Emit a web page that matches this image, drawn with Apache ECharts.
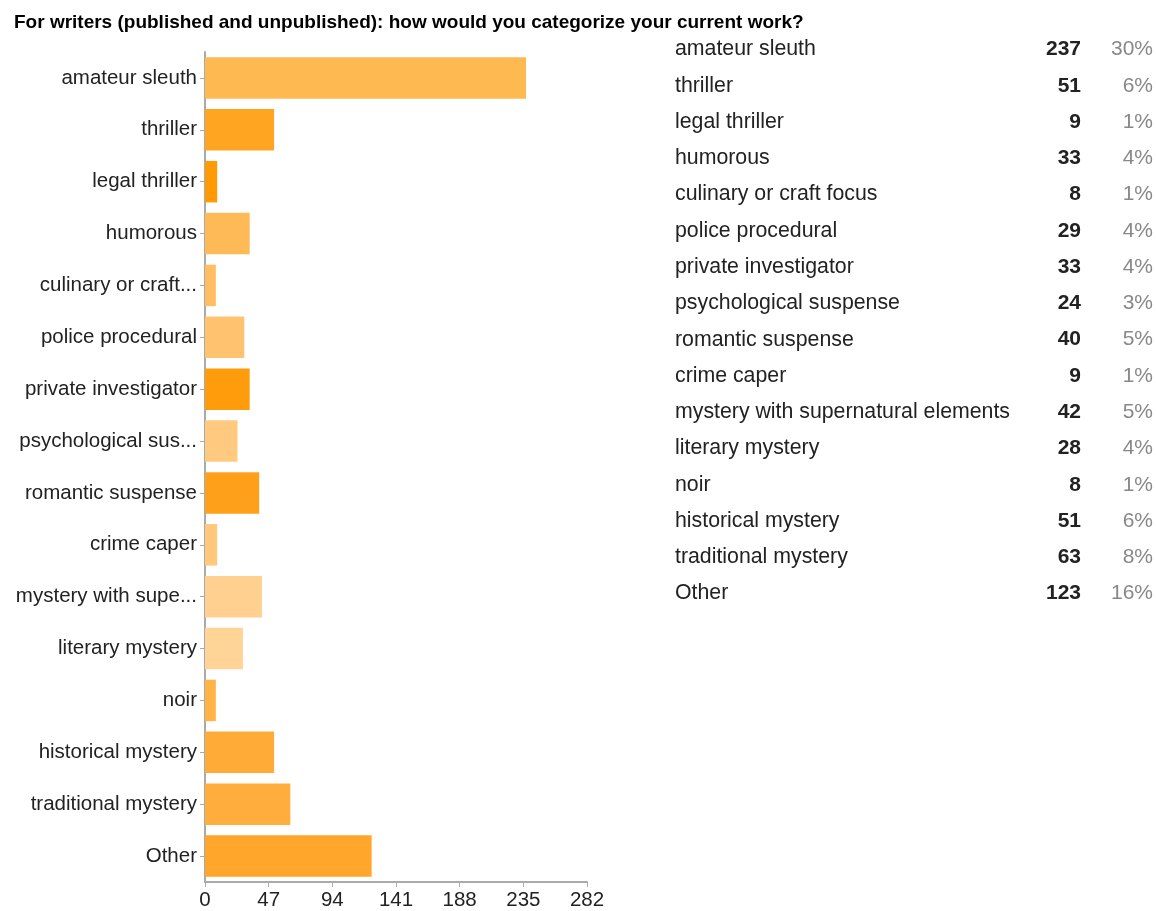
<!DOCTYPE html>
<html>
<head>
<meta charset="utf-8">
<script src="https://cdn.jsdelivr.net/npm/echarts@6/dist/echarts.min.js"></script>
<style>
  html, body { margin: 0; padding: 0; background: #fff; }
  #main { width: 1156px; height: 911px; }
</style>
</head>
<body>
<div id="main"></div>
<script>
// categories (full names, used in the table) and the shortened axis labels
var categories = ["amateur sleuth", "thriller", "legal thriller", "humorous", "culinary or craft focus",
    "police procedural", "private investigator", "psychological suspense", "romantic suspense",
    "crime caper", "mystery with supernatural elements", "literary mystery", "noir",
    "historical mystery", "traditional mystery", "Other"];
var axisLabels = ["amateur sleuth", "thriller", "legal thriller", "humorous", "culinary or craft...",
    "police procedural", "private investigator", "psychological sus...", "romantic suspense",
    "crime caper", "mystery with supe...", "literary mystery", "noir",
    "historical mystery", "traditional mystery", "Other"];
var counts = [237, 51, 9, 33, 8, 29, 33, 24, 40, 9, 42, 28, 8, 51, 63, 123];
var percents = ["30%", "6%", "1%", "4%", "1%", "4%", "4%", "3%", "5%", "1%", "5%", "4%", "1%", "6%", "8%", "16%"];
var barColors = ["#FFB951", "#FFA522", "#FF9A05", "#FFBA58", "#FFBE63", "#FFC370", "#FF9C0B", "#FFCA80",
    "#FFA01A", "#FFC87A", "#FFD08F", "#FFD496", "#FFB445", "#FFAB38", "#FFAE3E", "#FFA62B"];
var xTicks = [0, 47, 94, 141, 188, 235, 282];

var chart = echarts.init(document.getElementById('main'), null, { renderer: 'canvas' });

var font = '"Liberation Sans", Arial, sans-serif';

// table on the right
var rowTop = 49, rowStep = 36.27;
var tableItems = [];
for (var i = 0; i < categories.length; i++) {
    var y = rowTop + i * rowStep;
    tableItems.push({
        type: 'text', left: 675, top: y - 10,
        style: { text: categories[i], font: '21.3px ' + font, fill: '#222' }
    });
    tableItems.push({
        type: 'text', right: 1156 - 1081, top: y - 10,
        style: { text: String(counts[i]), font: 'bold 21px ' + font, fill: '#222', textAlign: 'right' }
    });
    tableItems.push({
        type: 'text', right: 1156 - 1153, top: y - 10,
        style: { text: percents[i], font: '21px ' + font, fill: '#888', textAlign: 'right' }
    });
}

var option = {
    animation: false,
    backgroundColor: '#fff',
    title: {
        text: 'For writers (published and unpublished): how would you categorize your current work?',
        left: 9, top: 8,
        textStyle: { fontFamily: font, fontSize: 19, fontWeight: 'bold', color: '#000' }
    },
    grid: { left: 205, top: 52, width: 382, height: 830 },
    xAxis: {
        type: 'value',
        min: 0, max: 282, interval: 47,
        axisLine: { show: true, lineStyle: { color: '#aaa', width: 2 } },
        axisTick: { show: true, length: 5, lineStyle: { color: '#aaa' } },
        splitLine: { show: false },
        axisLabel: { color: '#222', fontFamily: font, fontSize: 20.5, margin: 8 }
    },
    yAxis: {
        type: 'category',
        inverse: true,
        data: axisLabels,
        axisLine: { show: true, lineStyle: { color: '#aaa', width: 2 } },
        axisTick: { show: true, alignWithLabel: true, length: 5, lineStyle: { color: '#aaa' } },
        axisLabel: { color: '#222', fontFamily: font, fontSize: 20.5, margin: 8, interval: 0 }
    },
    series: [{
        type: 'bar',
        barCategoryGap: '20%',
        data: counts.map(function (v, i) {
            return { value: v, itemStyle: { color: barColors[i] } };
        })
    }],
    graphic: tableItems
};

chart.setOption(option);
</script>
</body>
</html>
